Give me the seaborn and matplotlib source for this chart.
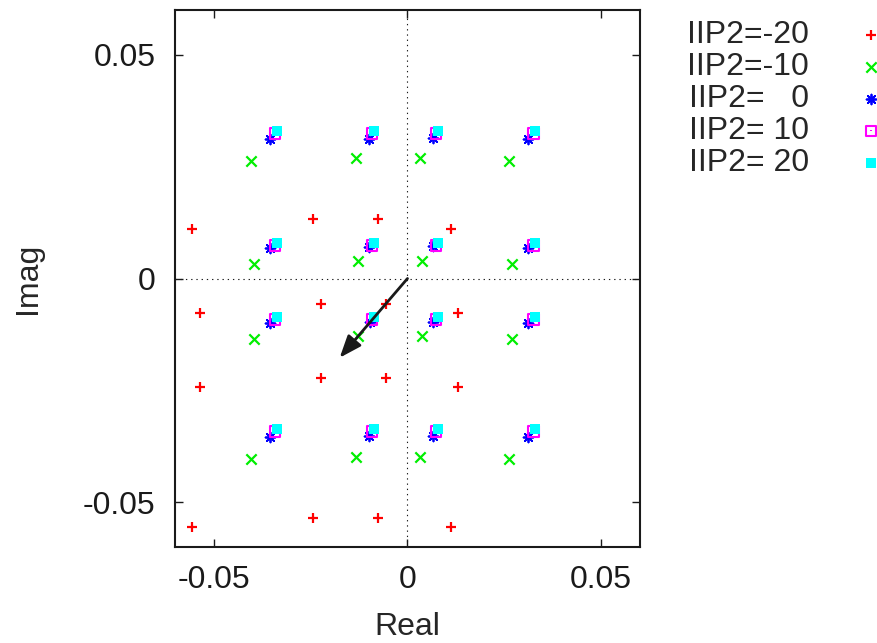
import matplotlib

matplotlib.use("Agg")
import matplotlib.pyplot as plt
import seaborn as sns
from matplotlib.path import Path

# constellation points (16-QAM under IIP2 distortion)
labels = ["IIP2=-20", "IIP2=-10", "IIP2=   0", "IIP2= 10", "IIP2= 20"]

red_x = [-0.0555, -0.0243, -0.0077, 0.0111,
         -0.0535, -0.0222, -0.0056, 0.0130,
         -0.0535, -0.0222, -0.0056, 0.0130,
         -0.0555, -0.0243, -0.0077, 0.0111]
red_y = [0.0111, 0.0132, 0.0132, 0.0111,
         -0.0077, -0.0056, -0.0056, -0.0077,
         -0.0243, -0.0222, -0.0222, -0.0243,
         -0.0555, -0.0535, -0.0535, -0.0555]

green_x = [-0.0403, -0.0134, 0.0032, 0.0262,
           -0.0397, -0.0128, 0.0038, 0.0269,
           -0.0397, -0.0128, 0.0038, 0.0269,
           -0.0403, -0.0134, 0.0032, 0.0262]
green_y = [0.0262, 0.0269, 0.0269, 0.0262,
           0.0033, 0.0039, 0.0039, 0.0033,
           -0.0135, -0.0128, -0.0128, -0.0135,
           -0.0403, -0.0398, -0.0398, -0.0403]

blue_x = [-0.0356, -0.0100, 0.0066, 0.0311,
          -0.0355, -0.0099, 0.0067, 0.0311,
          -0.0355, -0.0097, 0.0067, 0.0311,
          -0.0356, -0.0100, 0.0066, 0.0311]
blue_y = [0.0312, 0.0312, 0.0313, 0.0311,
          0.0068, 0.0070, 0.0072, 0.0068,
          -0.0099, -0.0097, -0.0097, -0.0099,
          -0.0355, -0.0353, -0.0353, -0.0355]

mag_x = [-0.0342, -0.0092, 0.0074, 0.0325] * 4
mag_y = [0.0324] * 4 + [0.0074] * 4 + [-0.0092] * 4 + [-0.0342] * 4

cyan_x = [-0.0337, -0.0087, 0.0079, 0.0330] * 4
cyan_y = [0.0329] * 4 + [0.0079] * 4 + [-0.0086] * 4 + [-0.0337] * 4

arrow_end = (-0.0175, -0.0177)

ticks = [-0.05, 0, 0.05]
tick_labels = ["-0.05", "0", "0.05"]

sns.set_theme(style="ticks")
plt.rcParams["font.family"] = ["Liberation Sans", "DejaVu Sans"]
plt.rcParams["axes.unicode_minus"] = False

# gnuplot style open square with a dot in the middle
box_dot = Path(
    [(-0.5, -0.5), (0.5, -0.5), (0.5, 0.5), (-0.5, 0.5), (-0.5, -0.5),
     (-0.04, -0.04), (0.04, -0.04), (0.04, 0.04), (-0.04, 0.04), (-0.04, -0.04)],
    [Path.MOVETO, Path.LINETO, Path.LINETO, Path.LINETO, Path.CLOSEPOLY,
     Path.MOVETO, Path.LINETO, Path.LINETO, Path.LINETO, Path.CLOSEPOLY],
)

fig = plt.figure(figsize=(8.78, 6.43), dpi=100)
ax = fig.add_axes([175 / 878, 1 - 547 / 643, 465 / 878, 537 / 643])

ax.axhline(0, color="k", lw=0.8, ls=(0, (1.2, 3.5)), zorder=1)
ax.axvline(0, color="k", lw=0.8, ls=(0, (1.2, 3.5)), zorder=1)

sns.scatterplot(x=red_x, y=red_y, marker="+", color="#ff0000", s=55,
                linewidth=1.6, label=labels[0], ax=ax, zorder=3)
sns.scatterplot(x=green_x, y=green_y, marker="x", color="#00ee00", s=55,
                linewidth=1.6, label=labels[1], ax=ax, zorder=3)
sns.scatterplot(x=blue_x, y=blue_y, marker=(8, 2, 0), color="#0000ff", s=50,
                linewidth=1.3, label=labels[2], ax=ax, zorder=3)
sns.scatterplot(x=mag_x, y=mag_y, marker=box_dot, facecolor="none",
                edgecolor="#ff00ff", s=56, linewidth=1.5, label=labels[3],
                ax=ax, zorder=3)
sns.scatterplot(x=cyan_x, y=cyan_y, marker="s", color="#00ffff",
                edgecolor="#00ffff", s=56, linewidth=0, label=labels[4],
                ax=ax, zorder=3)

ax.annotate("", xy=arrow_end, xytext=(0, 0),
            arrowprops=dict(arrowstyle="-|>,head_length=0.9,head_width=0.35",
                            mutation_scale=15, lw=2, color="k",
                            shrinkA=0, shrinkB=0), zorder=4)

ax.set_xlim(-0.06, 0.06)
ax.set_ylim(-0.06, 0.06)
ax.set_xticks(ticks)
ax.set_xticklabels(tick_labels)
ax.set_yticks(ticks)
ax.set_yticklabels(tick_labels)
ax.tick_params(direction="in", length=6, width=1, top=True, right=True,
               labelsize=23, colors="k")
ax.tick_params(axis="x", pad=13)
ax.tick_params(axis="y", pad=14)
ax.set_xlabel("Real", fontsize=23, labelpad=12)
ax.set_ylabel("Imag", fontsize=23, labelpad=29)
for sp in ax.spines.values():
    sp.set_linewidth(1.5)
    sp.set_color("k")

ax.legend(loc="upper right", bbox_to_anchor=(879 / 878, 1 - 20 / 643),
          bbox_transform=fig.transFigure, markerfirst=False, frameon=False,
          fontsize=23, handlelength=0.5, handletextpad=1.69, labelspacing=0.065,
          borderpad=0, borderaxespad=0, scatterpoints=1)

fig.savefig("out.png", dpi=100)
